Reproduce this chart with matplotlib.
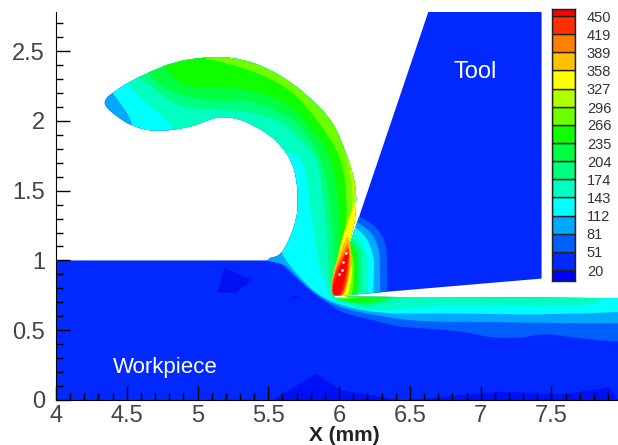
import matplotlib
matplotlib.use("Agg")
import matplotlib.pyplot as plt
from matplotlib.path import Path
from matplotlib.patches import PathPatch

plt.rcParams['font.family'] = ['Liberation Sans', 'DejaVu Sans']

# colour legend
levels = [20, 51, 81, 112, 143, 174, 204, 235, 266, 296, 327, 358, 389, 419, 450]
band_colors = ['#0000ff', '#0028ff', '#0060ff', '#00a8ff', '#00ffff', '#00ffc0', '#00ff80', '#00ff40',
               '#10ff00', '#70ff00', '#b0ff00', '#ffff00', '#ffc000', '#ff8000', '#ff3000', '#ff0000']
legend_low = 1.4
legend_high = 462

# workpiece, straight part of the outline
work_x = [4.00, 4.00, 7.97, 7.97, 6.04, 5.97, 5.96]
work_y = [1.00, 0.00, 0.00, 0.73, 0.74, 0.74, 0.77]
# chip, curved part of the outline
chip_x = [5.96, 6.10, 6.12, 6.12, 6.09, 6.04, 5.96, 5.81, 5.67, 5.49, 5.32, 5.16, 5.00,
          4.83, 4.66, 4.50, 4.40, 4.35, 4.34, 4.43, 4.54, 4.70, 4.93, 5.04, 5.14, 5.28, 5.39, 5.51, 5.60, 5.67, 5.70,
          5.71, 5.70, 5.64, 5.58, 5.50, 5.50]
chip_y = [0.77, 1.20, 1.38, 1.51, 1.65, 1.79, 1.99, 2.15, 2.27, 2.38, 2.44, 2.46, 2.45,
          2.42, 2.35, 2.27, 2.20, 2.16, 2.11, 2.03, 1.96, 1.92, 1.95, 1.99, 2.03, 2.02, 1.97, 1.90, 1.81, 1.70, 1.58,
          1.43, 1.29, 1.13, 1.03, 1.02, 1.00]

# tool outline
tool_x = [6.63, 7.43, 7.43, 6.04, 5.97, 5.96]
tool_y = [2.78, 2.78, 0.87, 0.75, 0.75, 0.77]

# cooler patches in the workpiece
patches_x = [[5.19, 5.38, 5.27, 5.14], [5.63, 5.70, 5.72], [5.53, 5.84, 6.01, 6.43], [6.50, 7.14, 7.56, 7.91, 7.97]]
patches_y = [[0.95, 0.86, 0.77, 0.77], [0.70, 0.75, 0.74], [0.00, 0.19, 0.07, 0.00], [0.00, 0.06, 0.04, 0.09, 0.00]]
patch_color = '#0010f4'

# contour lines in chip and workpiece, coolest first
t51_x = [4.00, 4.00, 5.53, 5.67, 5.81, 5.94, 6.03, 6.29, 6.43, 6.85, 7.08, 7.33, 7.45, 7.76, 7.97]
t51_y = [2.70, 1.03, 1.03, 0.90, 0.77, 0.68, 0.62, 0.56, 0.52, 0.50, 0.44, 0.45, 0.48, 0.43, 0.42]
t81_x = [4.00, 4.00, 5.56, 5.70, 5.83, 6.00, 6.29, 6.57, 7.08, 7.56, 7.97]
t81_y = [2.70, 1.03, 1.03, 0.88, 0.76, 0.66, 0.60, 0.56, 0.56, 0.55, 0.55]
t112_x = [4.40, 4.47, 4.54, 4.54, 5.60, 5.60, 5.72, 5.85, 6.03, 6.29, 6.57, 6.85, 7.56, 7.97]
t112_y = [2.20, 2.11, 1.99, 1.88, 1.07, 1.03, 0.88, 0.75, 0.67, 0.62, 0.62, 0.62, 0.61, 0.63]
t143_x = [4.50, 4.59, 4.73, 4.84, 4.84, 5.51, 5.58, 5.74, 5.77, 5.79, 5.83, 5.85, 5.92, 5.94, 6.01, 6.24, 6.57, 6.88,
          7.42, 7.81, 7.87, 7.97]
t143_y = [2.27, 2.17, 2.05, 1.94, 1.86, 1.83, 1.79, 1.74, 1.58, 1.41, 1.17, 0.98, 0.79, 0.73, 0.69, 0.63, 0.67, 0.68,
          0.67, 0.68, 0.74, 0.79]
t174_x = [4.58, 4.66, 4.78, 4.97, 5.21, 5.39, 5.60, 5.74, 5.84, 5.87, 5.89, 5.92, 5.92, 5.94, 5.95, 6.04, 6.24, 6.45,
          6.64]
t174_y = [2.31, 2.26, 2.15, 2.08, 2.08, 2.06, 1.99, 1.86, 1.74, 1.58, 1.41, 1.15, 0.93, 0.82, 0.73, 0.70, 0.67, 0.74,
          0.79]
t204_x = [4.65, 4.70, 4.85, 5.11, 5.35, 5.55, 5.71, 5.88, 5.94, 5.96, 5.97, 5.96, 5.97, 6.06, 6.24, 6.39]
t204_y = [2.34, 2.27, 2.19, 2.14, 2.15, 2.08, 1.99, 1.74, 1.41, 1.15, 0.93, 0.82, 0.74, 0.70, 0.68, 0.74]
t235_x = [4.76, 4.81, 4.93, 5.16, 5.39, 5.60, 5.78, 5.95, 6.00, 6.01, 5.99, 5.96, 5.98, 6.06, 6.20, 6.36]
t235_y = [2.39, 2.32, 2.24, 2.24, 2.22, 2.15, 1.99, 1.74, 1.41, 1.15, 0.93, 0.79, 0.73, 0.71, 0.70, 0.74]
t266_x = [5.05, 5.18, 5.42, 5.67, 5.86, 6.02, 6.06, 6.04, 6.01, 5.98, 5.99, 6.08, 6.18]
t266_y = [2.45, 2.42, 2.35, 2.22, 1.99, 1.74, 1.41, 1.15, 0.95, 0.79, 0.73, 0.72, 0.75]
t296_x = [6.04, 6.08, 6.10, 6.06, 6.01, 5.96, 5.95, 6.04, 6.09]
t296_y = [1.79, 1.65, 1.41, 1.18, 0.99, 0.82, 0.74, 0.72, 0.75]
t327_x = [6.12, 6.08, 6.03, 5.98, 5.94, 5.96, 6.04]
t327_y = [1.43, 1.33, 1.20, 0.98, 0.80, 0.74, 0.76]

# contour lines inside the tool
tool1_x = [6.15, 6.25, 6.33, 6.34, 6.34]
tool1_y = [1.31, 1.26, 1.14, 0.98, 0.77]
tool2_x = [6.13, 6.22, 6.28, 6.29, 6.29]
tool2_y = [1.27, 1.22, 1.10, 0.98, 0.77]
tool3_x = [6.11, 6.19, 6.24, 6.25, 6.24]
tool3_y = [1.24, 1.18, 1.05, 0.95, 0.77]
tool4_x = [6.10, 6.16, 6.20, 6.21, 6.20]
tool4_y = [1.20, 1.14, 1.03, 0.93, 0.76]
tool5_x = [6.09, 6.14, 6.17, 6.16]
tool5_y = [1.17, 1.11, 1.03, 0.77]
tool6_x = [6.08, 6.12, 6.14, 6.13]
tool6_y = [1.14, 1.08, 0.98, 0.76]
tool7_x = [6.07, 6.10, 6.11, 6.09]
tool7_y = [1.10, 1.03, 0.91, 0.75]
tool8_x = [6.06, 6.09, 6.09, 6.06]
tool8_y = [1.08, 0.98, 0.86, 0.75]

# hot spot along the rake face
hot358_x = [6.06, 6.01, 5.96, 5.94, 5.96, 6.03, 6.07, 6.09, 6.08]
hot358_y = [1.18, 1.08, 0.93, 0.81, 0.74, 0.73, 0.86, 0.99, 1.11]
hot389_x = [6.06, 5.99, 5.96, 5.94, 5.96, 6.03, 6.06, 6.08, 6.07]
hot389_y = [1.13, 0.99, 0.88, 0.80, 0.74, 0.74, 0.86, 0.99, 1.09]
hot419_x = [6.06, 6.00, 5.96, 5.95, 5.96, 6.02, 6.05, 6.07, 6.07]
hot419_y = [1.09, 0.98, 0.88, 0.80, 0.74, 0.74, 0.85, 0.98, 1.08]
hot450_x = [6.06, 6.01, 5.98, 5.95, 5.96, 6.01, 6.04, 6.06, 6.07]
hot450_y = [1.06, 0.98, 0.88, 0.80, 0.75, 0.75, 0.86, 0.98, 1.05]

dots_x = [6.05, 6.03, 6.02, 6.00]
dots_y = [1.05, 0.99, 0.93, 0.90]
tip_x = [5.97, 6.04]
tip_y = [0.745, 0.745]

body_lines = [(t51_x, t51_y, 2), (t81_x, t81_y, 3), (t112_x, t112_y, 4), (t143_x, t143_y, 5), (t174_x, t174_y, 6),
              (t204_x, t204_y, 7), (t235_x, t235_y, 8), (t266_x, t266_y, 9), (t296_x, t296_y, 10),
              (t327_x, t327_y, 11)]
tool_lines = [(tool1_x, tool1_y, 2), (tool2_x, tool2_y, 3), (tool3_x, tool3_y, 4), (tool4_x, tool4_y, 5),
              (tool5_x, tool5_y, 6), (tool6_x, tool6_y, 8), (tool7_x, tool7_y, 9), (tool8_x, tool8_y, 11)]
hot_lines = [(hot358_x, hot358_y, 12), (hot389_x, hot389_y, 13), (hot419_x, hot419_y, 14), (hot450_x, hot450_y, 15)]


def curve_path(xs, ys, tail_x=(), tail_y=()):
    # the read points are control points of a soft curve, tail is straight
    pts = list(zip(xs, ys))
    verts = [pts[0]]
    codes = [Path.MOVETO]
    for i in range(1, len(pts) - 1):
        mid = ((pts[i][0] + pts[i + 1][0]) / 2, (pts[i][1] + pts[i + 1][1]) / 2)
        if i == len(pts) - 2:
            mid = pts[i + 1]
        verts += [pts[i], mid]
        codes += [Path.CURVE3, Path.CURVE3]
    for p in zip(tail_x, tail_y):
        verts.append(p)
        codes.append(Path.LINETO)
    verts.append(verts[0])
    codes.append(Path.CLOSEPOLY)
    return Path(verts, codes)


fig = plt.figure(figsize=(6.18, 4.45), dpi=100)
ax = fig.add_axes([56 / 618, 45 / 445, 562 / 618, 388 / 445])

body = PathPatch(curve_path(chip_x, chip_y, work_x, work_y), fc=band_colors[1], lw=0, zorder=1)
ax.add_patch(body)
tool = ax.fill(tool_x, tool_y, color=band_colors[1], lw=0, zorder=1)[0]

for px, py in zip(patches_x, patches_y):
    p = ax.fill(px, py, color=patch_color, lw=0, zorder=1.5)[0]
    p.set_clip_path(body)

# each contour is closed round the far side, the outline clips it
for n, (lx, ly, c) in enumerate(body_lines):
    path = curve_path(lx, ly, [8.5, 8.5, lx[0]], [ly[-1], 3.0, 3.0])
    p = ax.add_patch(PathPatch(path, fc=band_colors[c], lw=0, zorder=2 + n * 0.01))
    p.set_clip_path(body)

for n, (lx, ly, c) in enumerate(tool_lines):
    path = curve_path(lx, ly, [5.8, 5.8], [0.7, 1.6])
    p = ax.add_patch(PathPatch(path, fc=band_colors[c], lw=0, zorder=2 + n * 0.01))
    p.set_clip_path(tool)

for n, (lx, ly, c) in enumerate(hot_lines):
    ax.add_patch(PathPatch(curve_path(lx, ly), fc=band_colors[c], lw=0, zorder=3 + n * 0.01))

ax.plot(dots_x, dots_y, ls='none', marker='s', ms=0.8, color='white', zorder=4)
ax.plot(tip_x, tip_y, color='white', lw=1, zorder=4)

ax.text(6.96, 2.35, 'Tool', color='white', fontsize=17, ha='center', va='center', zorder=5)
ax.text(4.77, 0.23, 'Workpiece', color='white', fontsize=16, ha='center', va='center', zorder=5)

ax.set_xlim(4, 7.97)
ax.set_ylim(0, 2.78)
ax.spines['top'].set_visible(False)
ax.spines['right'].set_visible(False)
ax.spines['left'].set_zorder(6)
ax.spines['bottom'].set_zorder(6)
ax.set_xticks([4, 4.5, 5, 5.5, 6, 6.5, 7, 7.5])
ax.set_xticklabels(['4', '4.5', '5', '5.5', '6', '6.5', '7', '7.5'])
ax.set_yticks([0, 0.5, 1, 1.5, 2, 2.5])
ax.set_yticklabels(['0', '0.5', '1', '1.5', '2', '2.5'])
ax.set_xticks([4 + i * 0.1 for i in range(40) if i % 5 != 0], minor=True)
ax.set_yticks([i * 0.1 for i in range(28) if i % 5 != 0], minor=True)
ax.tick_params(which='major', direction='in', length=10, width=1, labelsize=17, labelcolor='#444444', zorder=6)
ax.tick_params(which='minor', direction='in', length=5, width=1, zorder=6)
ax.tick_params(axis='x', which='major', pad=3.5)
ax.tick_params(axis='y', which='major', pad=8)
ax.set_xlabel('X (mm)', fontsize=15, fontweight='bold', color='#222222')
ax.xaxis.set_label_coords((344 - 56) / 562, -26 / 388)

# legend
cax = fig.add_axes([552 / 618, 1 - 281 / 445, 23 / 618, 272 / 445])
edges = [legend_low] + levels + [legend_high]
for i, col in enumerate(band_colors):
    cax.bar(0, edges[i + 1] - edges[i], bottom=edges[i], width=1, color=col, edgecolor='#222222', lw=1)
cax.set_xlim(-0.5, 0.5)
cax.set_ylim(legend_low, legend_high)
cax.set_xticks([])
cax.yaxis.tick_right()
cax.set_yticks(levels)
cax.set_yticklabels([str(v) for v in levels])
cax.tick_params(axis='y', length=0, pad=8.5, labelsize=10.5, labelcolor='#333333')
for s in cax.spines.values():
    s.set_linewidth(1)
    s.set_color('#222222')

fig.savefig('out.png', dpi=100)
plt.close(fig)
print("done")
